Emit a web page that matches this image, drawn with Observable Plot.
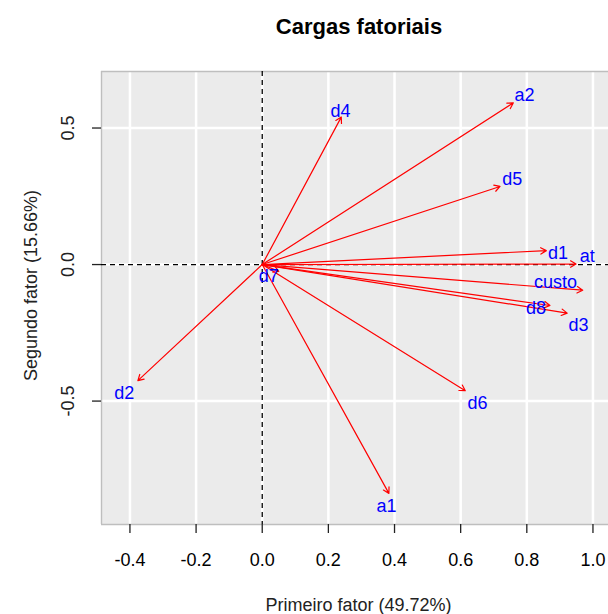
<!DOCTYPE html>
<html>
<head>
<meta charset="utf-8">
<script src="https://cdn.jsdelivr.net/npm/d3@7"></script>
<script src="https://cdn.jsdelivr.net/npm/@observablehq/plot@0.6"></script>
<style>
  html, body { margin: 0; padding: 0; background: white; overflow: hidden; }
  #wrap { position: relative; width: 608px; height: 46px; }
  #title { position: absolute; left: 209px; width: 300px; top: 14px; line-height: 22px;
           text-align: center; font: bold 22px "Liberation Sans", Arial, sans-serif; color: black; }
</style>
</head>
<body>
<div id="wrap"><div id="title">Cargas fatoriais</div></div>
<div id="chart"></div>
<script>
const variables = ["a1", "a2", "at", "custo", "d1", "d2", "d3", "d4", "d5", "d6", "d7", "d8"];
const factor1 = [0.383, 0.759, 0.949, 0.969, 0.859, -0.376, 0.922, 0.239, 0.719, 0.614, 0.050, 0.870];
const factor2 = [-0.838, 0.592, 0.002, -0.094, 0.051, -0.425, -0.178, 0.540, 0.286, -0.462, -0.025, -0.150];
const labelX = [0.376, 0.793, 0.983, 0.887, 0.894, -0.417, 0.956, 0.237, 0.756, 0.651, 0.020, 0.828];
const labelY = [-0.886, 0.619, 0.032, -0.066, 0.042, -0.473, -0.224, 0.561, 0.311, -0.509, -0.044, -0.159];
const xTicks = [-0.4, -0.2, 0.0, 0.2, 0.4, 0.6, 0.8, 1.0];
const yTicks = [-0.5, 0.0, 0.5];
const xDomain = [-0.486, 1.047];
const yDomain = [-0.952, 0.707];
const xTitle = "Primeiro fator (49.72%)";
const yTitle = "Segundo fator (15.66%)";

const rows = variables.map((v, i) => ({name: v, x0: 0, y0: 0, x: factor1[i], y: factor2[i], lx: labelX[i], ly: labelY[i]}));
const FONT = "Liberation Sans, Arial, sans-serif";

const chart = Plot.plot({
  width: 608,
  height: 568,
  marginLeft: 101,
  marginRight: 0,
  marginTop: 25,
  marginBottom: 90,
  style: {fontFamily: FONT, fontSize: "18px", background: "white", color: "black"},
  x: {domain: xDomain, label: null},
  y: {domain: yDomain, label: null},
  marks: [
    Plot.frame({fill: "#EBEBEB", stroke: "none"}),
    Plot.ruleX(xTicks, {stroke: "white", strokeWidth: 2.5}),
    Plot.ruleY(yTicks, {stroke: "white", strokeWidth: 2.5}),
    Plot.ruleX([xDomain[0]], {stroke: "#BEBEBE", strokeWidth: 1.4}),
    Plot.ruleY(yDomain, {stroke: "#BEBEBE", strokeWidth: 1.4}),
    Plot.axisX(xTicks, {tickSize: 9, tickPadding: 20, tickFormat: d => d.toFixed(1), fontSize: 18, stroke: "#222", strokeWidth: 1.3, label: null}),
    Plot.axisY(yTicks, {tickSize: 9, tickFormat: () => "", stroke: "#222", strokeWidth: 1.3, label: null}),
    Plot.text(yTicks, {y: d => d, text: d => d.toFixed(1), frameAnchor: "left", dx: -33, rotate: -90,
      textAnchor: "middle", lineAnchor: "middle", fontSize: 18, fill: "#222"}),
    Plot.text([xTitle], {text: d => d, frameAnchor: "bottom", dx: 3.5, dy: 80.5, lineAnchor: "middle",
      textAnchor: "middle", fontSize: 18, fill: "#222"}),
    Plot.text([yTitle], {text: d => d, frameAnchor: "left", dx: -70, dy: -12.5, rotate: -90, lineAnchor: "middle",
      textAnchor: "middle", fontSize: 18, fill: "#222"}),
    Plot.ruleX([0], {stroke: "black", strokeWidth: 1.3, strokeDasharray: "5,4"}),
    Plot.ruleY([0], {stroke: "black", strokeWidth: 1.3, strokeDasharray: "5,4"}),
    Plot.arrow(rows, {x1: "x0", y1: "y0", x2: "x", y2: "y", stroke: "red", strokeWidth: 1.2, headLength: 8, headAngle: 60}),
    Plot.text(rows, {x: "lx", y: "ly", text: "name", fill: "blue", fontSize: 18, textAnchor: "middle", lineAnchor: "middle"})
  ]
});
document.getElementById("chart").appendChild(chart);
</script>
</body>
</html>
